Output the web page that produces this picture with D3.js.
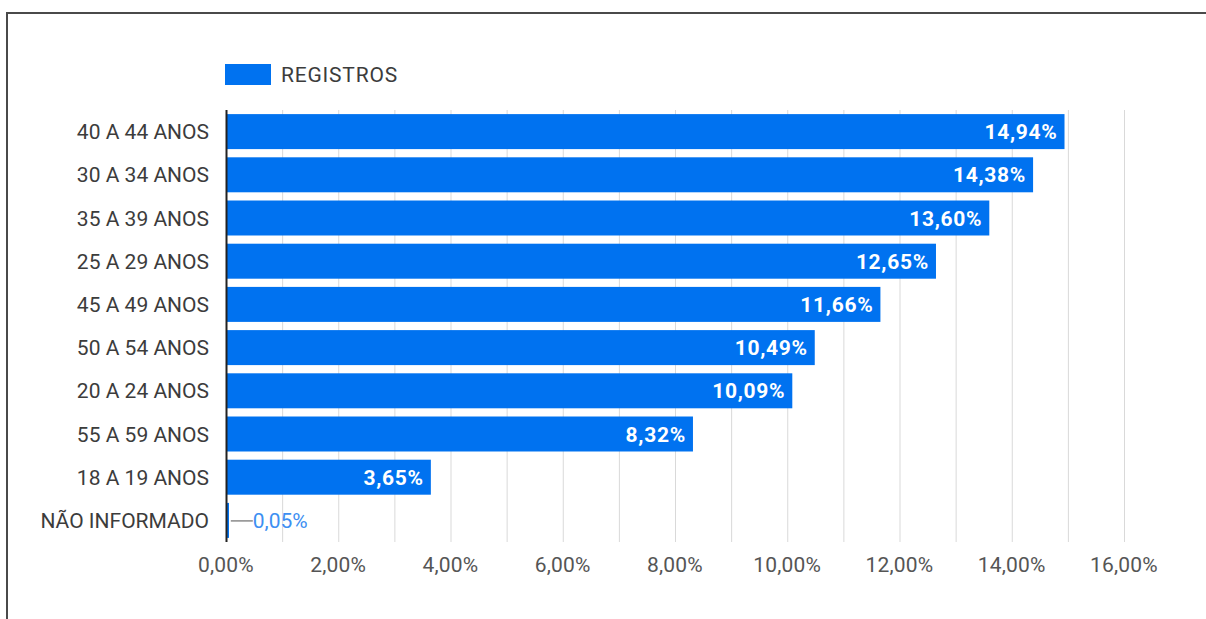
<!DOCTYPE html>
<html>
<head>
<meta charset="utf-8">
<script src="https://cdn.jsdelivr.net/npm/d3@7"></script>
<style>
  html, body { margin: 0; padding: 0; background: #fff; }
  svg { display: block; font-family: Roboto, "Noto Sans", sans-serif; }
</style>
</head>
<body>
<div id="chart"></div>
<script>
// values
const categories = ["40 A 44 ANOS", "30 A 34 ANOS", "35 A 39 ANOS", "25 A 29 ANOS", "45 A 49 ANOS",
    "50 A 54 ANOS", "20 A 24 ANOS", "55 A 59 ANOS", "18 A 19 ANOS", "NÃO INFORMADO"];
const registros = [14.94, 14.38, 13.60, 12.65, 11.66, 10.49, 10.09, 8.32, 3.65, 0.05];
const tickValues = [0, 2, 4, 6, 8, 10, 12, 14, 16];
const seriesName = "REGISTROS";

const width = 1206;
const height = 619;
const barColor = "#0072f0";
const pct = v => d3.format(".2f")(v).replace(".", ",") + "%";

const svg = d3.select("#chart").append("svg")
    .attr("width", width)
    .attr("height", height);

// frame
svg.append("rect")
    .attr("x", 7).attr("y", 13)
    .attr("width", 1300).attr("height", 800)
    .attr("fill", "none")
    .attr("stroke", "#4a4a4a")
    .attr("stroke-width", 2);

const x = d3.scaleLinear().domain([0, 16]).range([226, 1124]);
const y = d3.scaleBand().domain(categories).range([110, 542]).paddingInner(0.19).paddingOuter(0.095);

// grid lines every 1%
svg.append("g").selectAll("line")
    .data(d3.range(1, 17))
    .enter().append("line")
    .attr("x1", d => x(d) + 0.5).attr("x2", d => x(d) + 0.5)
    .attr("y1", 110).attr("y2", 542)
    .attr("stroke", "#d9d9d9")
    .attr("stroke-width", 1);

// bars
svg.append("g").selectAll("rect")
    .data(registros)
    .enter().append("rect")
    .attr("x", x(0) + 1)
    .attr("y", (d, i) => y(categories[i]))
    .attr("width", d => Math.max(x(d) - x(0) - 1, 2))
    .attr("height", y.bandwidth())
    .attr("fill", barColor);

// baseline
svg.append("line")
    .attr("x1", x(0) + 0.5).attr("x2", x(0) + 0.5)
    .attr("y1", 110).attr("y2", 542)
    .attr("stroke", "#222")
    .attr("stroke-width", 2);

// value labels
registros.forEach((v, i) => {
    const cy = y(categories[i]) + y.bandwidth() / 2;
    if (x(v) - x(0) > 80) {
        svg.append("text")
            .attr("x", x(v) - 7)
            .attr("y", cy)
            .attr("dy", "0.36em")
            .attr("text-anchor", "end")
            .attr("fill", "#fff")
            .style("font-size", "21px")
            .style("font-weight", "bold")
            .style("letter-spacing", "0.7px")
            .text(pct(v));
    } else {
        svg.append("line")
            .attr("x1", x(v) + 2).attr("x2", x(v) + 24)
            .attr("y1", cy + 0.5).attr("y2", cy + 0.5)
            .attr("stroke", "#8a8a8a")
            .attr("stroke-width", 1.5);
        svg.append("text")
            .attr("x", x(v) + 24)
            .attr("y", cy)
            .attr("dy", "0.36em")
            .attr("fill", "#3d8ff2")
            .style("font-size", "21px")
            .text(pct(v));
    }
});

// category labels
svg.append("g").selectAll("text")
    .data(categories)
    .enter().append("text")
    .attr("x", 209)
    .attr("y", d => y(d) + y.bandwidth() / 2)
    .attr("dy", "0.36em")
    .attr("text-anchor", "end")
    .attr("fill", "#3c3c3c")
    .style("font-size", "21px")
    .text(d => d);

// x tick labels
svg.append("g").selectAll("text")
    .data(tickValues)
    .enter().append("text")
    .attr("x", d => x(d))
    .attr("y", 572)
    .attr("text-anchor", "middle")
    .attr("fill", "#555")
    .style("font-size", "21px")
    .style("letter-spacing", "0.2px")
    .text(d => pct(d));

// legend
svg.append("rect")
    .attr("x", 225).attr("y", 64)
    .attr("width", 46).attr("height", 21)
    .attr("fill", barColor);
svg.append("text")
    .attr("x", 281).attr("y", 82)
    .attr("fill", "#3c3c3c")
    .style("font-size", "21px")
    .style("letter-spacing", "0.8px")
    .text(seriesName);
</script>
</body>
</html>
